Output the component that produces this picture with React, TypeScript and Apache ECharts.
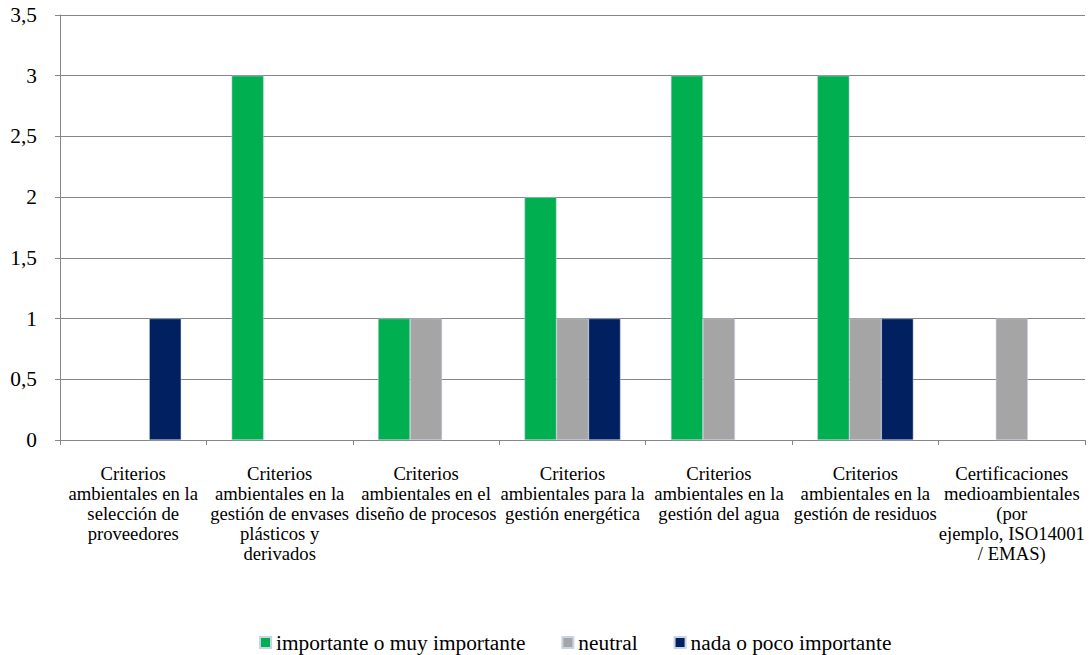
import React, { useEffect, useRef } from "react";
import * as echarts from "echarts";

const categories = [
  "Criterios\nambientales en la\nselección de\nproveedores",
  "Criterios\nambientales en la\ngestión de envases\nplásticos y\nderivados",
  "Criterios\nambientales en el\ndiseño de procesos",
  "Criterios\nambientales para la\ngestión energética",
  "Criterios\nambientales en la\ngestión del agua",
  "Criterios\nambientales en la\ngestión de residuos",
  "Certificaciones\nmedioambientales\n(por\nejemplo, ISO14001\n/ EMAS)",
];
const seriesNames = ["importante o muy importante", "neutral", "nada o poco importante"];
const importante = [null, 3, 1, 2, 3, 3, null];
const neutral = [null, null, 1, 1, 1, 1, 1];
const nada = [1, null, null, 1, null, 1, null];
const colors = ["#00B050", "#A5A5A5", "#002060"];

const FONT = "'Liberation Serif', 'Times New Roman', serif";

export default function App() {
  const ref = useRef<HTMLDivElement>(null);
  useEffect(() => {
    const chart = echarts.init(ref.current!, null, { renderer: "svg" });
    const dataSets = [importante, neutral, nada];
    chart.setOption({
      animation: false,
      textStyle: { fontFamily: FONT, color: "#000" },
      grid: { left: 60, right: 4, top: 15, bottom: 215, containLabel: false },
      legend: {
        top: 627,
        left: 254,
        itemWidth: 11,
        itemHeight: 11,
        itemGap: 36,
        icon: "rect",
        textStyle: { fontFamily: FONT, fontSize: 21.33, lineHeight: 20, color: "#000" },
        data: seriesNames,
      },
      xAxis: {
        type: "category",
        data: categories,
        axisLine: { lineStyle: { color: "#868686" } },
        axisTick: { show: true, alignWithLabel: false, length: 5, lineStyle: { color: "#868686" } },
        axisLabel: {
          interval: 0,
          margin: 23,
          fontFamily: FONT,
          fontSize: 18.67,
          lineHeight: 20,
          color: "#000",
          align: "center",
        },
      },
      yAxis: {
        type: "value",
        min: 0,
        max: 3.5,
        interval: 0.5,
        axisLine: { show: true, lineStyle: { color: "#868686" } },
        axisTick: { show: true, length: 5, lineStyle: { color: "#868686" } },
        splitLine: { lineStyle: { color: "#868686" } },
        axisLabel: {
          fontFamily: FONT,
          fontSize: 21.33,
          color: "#000",
          margin: 23,
          formatter: (v: number) => String(v).replace(".", ","),
        },
      },
      series: seriesNames.map((name, i) => ({
        name,
        type: "bar",
        data: dataSets[i],
        barWidth: 32,
        barGap: "0%",
        itemStyle: { color: colors[i], borderColor: "#c9d3e6", borderWidth: 0.5 },
      })),
    });
    return () => chart.dispose();
  }, []);
  return (
    <div
      ref={ref}
      style={{ position: "fixed", left: 0, top: 0, width: 1089, height: 655, background: "#fff" }}
    />
  );
}
